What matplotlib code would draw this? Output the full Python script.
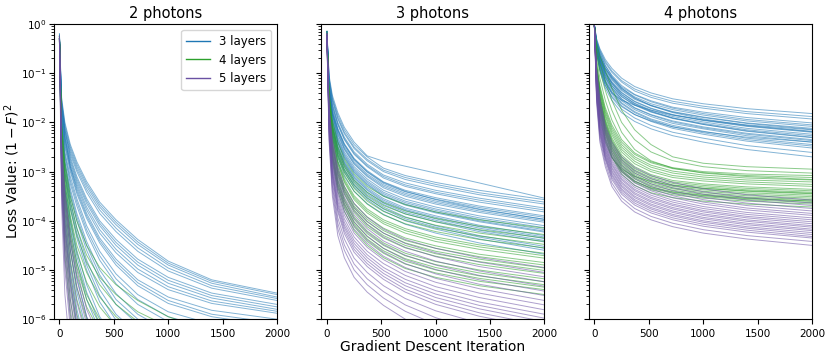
import numpy as np
import matplotlib

matplotlib.use("Agg")
import matplotlib.pyplot as plt

ITERS = [0, 20, 50, 100, 160, 250, 370, 520, 720, 1000, 1400, 2000]

PANEL_TITLES = ["2 photons", "3 photons", "4 photons"]
LAYER_LABELS = ["3 layers", "4 layers", "5 layers"]
X_TICKS = [0, 500, 1000, 1500, 2000]

# 2 photons
P2_L3 = [
    [-0.25, -1.5, -2.0, -2.45, -2.8, -3.2, -3.62, -3.98, -4.38, -4.82, -5.2, -5.47],
    [-0.25, -1.55, -2.05, -2.5, -2.85, -3.25, -3.67, -4.03, -4.43, -4.86, -5.23, -5.5],
    [-0.30, -1.6, -2.1, -2.55, -2.9, -3.3, -3.72, -4.08, -4.48, -4.9, -5.27, -5.55],
    [-0.30, -1.65, -2.15, -2.6, -2.95, -3.36, -3.78, -4.15, -4.55, -4.96, -5.32, -5.58],
    [-0.20, -1.7, -2.2, -2.65, -3.0, -3.42, -3.85, -4.22, -4.62, -5.02, -5.37, -5.62],
    [-0.35, -1.6, -2.15, -2.7, -3.1, -3.55, -4.0, -4.38, -4.78, -5.15, -5.47, -5.7],
    [-0.30, -1.75, -2.25, -2.75, -3.15, -3.6, -4.05, -4.44, -4.84, -5.21, -5.52, -5.75],
    [-0.30, -1.8, -2.3, -2.8, -3.2, -3.65, -4.1, -4.5, -4.9, -5.27, -5.57, -5.8],
    [-0.25, -1.85, -2.35, -2.85, -3.25, -3.72, -4.18, -4.58, -4.98, -5.34, -5.63, -5.84],
    [-0.25, -1.9, -2.4, -2.9, -3.3, -3.78, -4.25, -4.65, -5.05, -5.4, -5.68, -5.88],
    [-0.30, -1.7, -2.3, -2.9, -3.35, -3.85, -4.35, -4.78, -5.2, -5.55, -5.82, -6.0],
    [-0.35, -1.95, -2.45, -2.95, -3.4, -3.9, -4.4, -4.84, -5.26, -5.62, -5.9, -6.08],
    [-0.40, -2.0, -2.5, -3.0, -3.45, -3.95, -4.45, -4.9, -5.32, -5.68, -5.95, -6.15],
    [-0.30, -2.0, -2.6, -3.1, -3.55, -4.1, -4.62, -5.08, -5.5, -5.85, -6.1, -6.3],
    [-0.30, -2.05, -2.65, -3.18, -3.62, -4.18, -4.71, -5.18, -5.6, -5.95, -6.2, -6.4],
    [-0.25, -2.1, -2.7, -3.25, -3.7, -4.25, -4.8, -5.28, -5.7, -6.05, -6.3, -6.5],
    [-0.35, -2.2, -2.8, -3.35, -3.85, -4.42, -5.0, -5.48, -5.9, -6.25, -6.5, -6.7],
    [-0.25, -2.25, -2.85, -3.42, -3.92, -4.5, -5.1, -5.6, -6.0, -6.35, -6.6, -6.8],
    [-0.30, -2.2, -2.9, -3.5, -4.0, -4.6, -5.2, -5.7, -6.1, -6.45, -6.7, -6.9],
    [-0.30, -2.3, -3.0, -3.6, -4.15, -4.8, -5.4, -5.9, -6.3, -6.6, -6.85, -7.0],
    [-0.30, -2.35, -3.05, -3.68, -4.25, -4.9, -5.52, -6.02, -6.42, -6.72, -6.95, -7.15],
    [-0.20, -2.4, -3.1, -3.75, -4.35, -5.0, -5.65, -6.15, -6.55, -6.85, -7.1, -7.3],
    [-0.35, -2.5, -3.25, -3.95, -4.6, -5.3, -5.95, -6.45, -6.8, -7.1, -7.3, -7.5],
    [-0.30, -2.55, -3.32, -4.05, -4.72, -5.45, -6.1, -6.58, -6.92, -7.2, -7.4, -7.6],
    [-0.30, -2.6, -3.4, -4.15, -4.85, -5.6, -6.25, -6.7, -7.05, -7.3, -7.5, -7.7],
    [-0.25, -2.7, -3.55, -4.4, -5.15, -5.95, -6.6, -7.0, -7.3, -7.5, -7.7, -7.9],
    [-0.30, -2.8, -3.7, -4.6, -5.45, -6.25, -6.9, -7.3, -7.6, -7.8, -8.0, -8.1],
    [-0.35, -2.9, -3.9, -4.9, -5.8, -6.6, -7.2, -7.6, -7.9, -8.1, -8.3, -8.4],
    [-0.30, -3.0, -4.1, -5.2, -6.1, -6.9, -7.5, -7.9, -8.2, -8.4, -8.6, -8.7],
]
P2_L4 = [
    [-0.30, -2.0, -2.8, -3.5, -4.0, -4.5, -4.95, -5.3, -5.62, -5.95, -6.25, -6.5],
    [-0.25, -2.1, -2.9, -3.6, -4.15, -4.7, -5.15, -5.5, -5.85, -6.15, -6.45, -6.7],
    [-0.35, -2.2, -3.0, -3.75, -4.3, -4.85, -5.3, -5.7, -6.05, -6.35, -6.6, -6.85],
    [-0.30, -2.2, -3.1, -3.9, -4.5, -5.05, -5.55, -5.95, -6.3, -6.6, -6.85, -7.05],
    [-0.30, -2.3, -3.2, -4.0, -4.65, -5.25, -5.75, -6.15, -6.5, -6.8, -7.05, -7.25],
    [-0.25, -2.4, -3.35, -4.2, -4.85, -5.5, -6.0, -6.4, -6.75, -7.0, -7.25, -7.45],
    [-0.30, -2.5, -3.5, -4.4, -5.1, -5.75, -6.25, -6.65, -7.0, -7.25, -7.45, -7.6],
    [-0.35, -2.6, -3.65, -4.6, -5.35, -6.0, -6.5, -6.9, -7.2, -7.45, -7.65, -7.8],
    [-0.30, -2.7, -3.8, -4.8, -5.6, -6.3, -6.8, -7.15, -7.45, -7.7, -7.9, -8.0],
    [-0.25, -2.8, -4.0, -5.05, -5.9, -6.6, -7.1, -7.45, -7.7, -7.9, -8.1, -8.2],
    [-0.30, -2.9, -4.2, -5.3, -6.2, -6.9, -7.4, -7.7, -7.95, -8.15, -8.3, -8.4],
    [-0.30, -3.0, -4.4, -5.6, -6.5, -7.2, -7.7, -8.0, -8.2, -8.4, -8.5, -8.6],
    [-0.35, -3.2, -4.7, -5.9, -6.8, -7.5, -7.9, -8.2, -8.4, -8.6, -8.7, -8.8],
    [-0.30, -2.45, -3.4, -4.3, -4.95, -5.6, -6.1, -6.5, -6.85, -7.1, -7.35, -7.5],
]
P2_L5 = [
    [-0.30, -2.4, -3.4, -4.3, -5.0, -5.8, -6.4, -6.9, -7.3, -7.6, -7.85, -8.0],
    [-0.25, -2.6, -3.6, -4.6, -5.35, -6.1, -6.7, -7.15, -7.5, -7.8, -8.0, -8.2],
    [-0.35, -2.7, -3.8, -4.85, -5.65, -6.4, -7.0, -7.4, -7.7, -8.0, -8.2, -8.35],
    [-0.30, -2.8, -4.0, -5.1, -5.95, -6.7, -7.25, -7.65, -7.95, -8.2, -8.4, -8.5],
    [-0.30, -3.0, -4.3, -5.4, -6.25, -7.0, -7.5, -7.9, -8.2, -8.4, -8.6, -8.7],
    [-0.25, -3.2, -4.6, -5.8, -6.6, -7.3, -7.8, -8.15, -8.4, -8.6, -8.8, -8.9],
    [-0.30, -3.4, -5.0, -6.2, -7.0, -7.6, -8.1, -8.4, -8.65, -8.85, -9.0, -9.1],
    [-0.35, -3.7, -5.5, -6.7, -7.4, -8.0, -8.4, -8.7, -8.9, -9.1, -9.2, -9.3],
    [-0.30, -2.9, -4.15, -5.25, -6.1, -6.85, -7.4, -7.8, -8.1, -8.3, -8.5, -8.6],
    [-0.30, -3.1, -4.45, -5.6, -6.4, -7.15, -7.65, -8.0, -8.3, -8.5, -8.7, -8.8],
    [-0.25, -2.5, -3.5, -4.45, -5.2, -5.95, -6.55, -7.0, -7.4, -7.7, -7.9, -8.1],
    [-0.30, -3.3, -4.8, -6.0, -6.8, -7.45, -7.95, -8.3, -8.55, -8.75, -8.9, -9.0],
]

# 3 photons
P3_L3 = [
    [-0.15, -1.05, -1.45, -1.80, -2.10, -2.40, -2.68, -2.79, -2.89, -3.03, -3.23, -3.54],
    [-0.15, -1.10, -1.50, -1.85, -2.15, -2.45, -2.70, -2.93, -3.08, -3.22, -3.38, -3.57],
    [-0.18, -1.12, -1.53, -1.90, -2.20, -2.50, -2.75, -2.97, -3.12, -3.26, -3.43, -3.62],
    [-0.18, -1.15, -1.56, -1.93, -2.23, -2.53, -2.78, -3.00, -3.16, -3.30, -3.47, -3.66],
    [-0.15, -1.20, -1.62, -2.00, -2.30, -2.60, -2.85, -3.07, -3.23, -3.38, -3.54, -3.74],
    [-0.20, -1.22, -1.65, -2.03, -2.33, -2.63, -2.88, -3.10, -3.27, -3.42, -3.58, -3.78],
    [-0.20, -1.30, -1.68, -2.05, -2.35, -2.65, -2.90, -3.13, -3.30, -3.45, -3.62, -3.82],
    [-0.25, -1.25, -1.72, -2.12, -2.43, -2.73, -2.98, -3.21, -3.38, -3.53, -3.70, -3.90],
    [-0.15, -1.32, -1.76, -2.15, -2.46, -2.76, -3.01, -3.24, -3.41, -3.56, -3.73, -3.93],
    [-0.15, -1.35, -1.80, -2.18, -2.50, -2.80, -3.05, -3.27, -3.44, -3.60, -3.77, -3.97],
    [-0.20, -1.40, -1.80, -2.15, -2.45, -2.75, -3.00, -3.22, -3.40, -3.57, -3.76, -3.97],
    [-0.25, -1.38, -1.83, -2.22, -2.53, -2.83, -3.08, -3.30, -3.47, -3.63, -3.80, -4.00],
    [-0.20, -1.40, -1.85, -2.25, -2.55, -2.85, -3.10, -3.33, -3.50, -3.66, -3.83, -4.03],
    [-0.20, -1.30, -1.85, -2.30, -2.60, -2.90, -3.15, -3.38, -3.56, -3.72, -3.90, -4.10],
    [-0.20, -1.42, -1.90, -2.33, -2.64, -2.94, -3.19, -3.42, -3.60, -3.76, -3.94, -4.14],
    [-0.25, -1.45, -1.95, -2.37, -2.67, -2.97, -3.22, -3.45, -3.63, -3.79, -3.97, -4.18],
    [-0.15, -1.48, -1.98, -2.40, -2.70, -3.00, -3.25, -3.48, -3.66, -3.82, -4.00, -4.21],
    [-0.15, -1.50, -2.00, -2.42, -2.72, -3.02, -3.27, -3.50, -3.68, -3.84, -4.02, -4.23],
    [-0.20, -1.50, -2.05, -2.47, -2.78, -3.08, -3.33, -3.55, -3.74, -3.90, -4.09, -4.30],
    [-0.20, -1.52, -2.08, -2.50, -2.81, -3.11, -3.36, -3.58, -3.77, -3.93, -4.12, -4.33],
    [-0.20, -1.55, -2.10, -2.53, -2.83, -3.13, -3.38, -3.61, -3.79, -3.96, -4.15, -4.36],
    [-0.25, -1.58, -2.13, -2.57, -2.87, -3.17, -3.42, -3.64, -3.83, -3.99, -4.19, -4.40],
    [-0.25, -1.60, -2.15, -2.60, -2.90, -3.20, -3.45, -3.67, -3.86, -4.02, -4.22, -4.43],
    [-0.20, -1.60, -2.20, -2.65, -2.95, -3.25, -3.50, -3.72, -3.92, -4.10, -4.30, -4.52],
    [-0.20, -1.62, -2.22, -2.68, -2.98, -3.28, -3.53, -3.76, -3.96, -4.13, -4.33, -4.56],
    [-0.15, -1.65, -2.25, -2.72, -3.02, -3.32, -3.57, -3.80, -4.00, -4.17, -4.37, -4.60],
    [-0.20, -1.70, -2.30, -2.80, -3.10, -3.40, -3.65, -3.87, -4.07, -4.25, -4.45, -4.68],
]
P3_L4 = [
    [-0.20, -1.40, -1.95, -2.40, -2.75, -3.05, -3.30, -3.50, -3.67, -3.82, -3.98, -4.15],
    [-0.20, -1.45, -2.05, -2.50, -2.85, -3.17, -3.42, -3.63, -3.80, -3.95, -4.11, -4.28],
    [-0.20, -1.48, -2.08, -2.55, -2.90, -3.22, -3.48, -3.69, -3.86, -4.02, -4.18, -4.35],
    [-0.25, -1.50, -2.10, -2.60, -2.96, -3.28, -3.54, -3.75, -3.93, -4.09, -4.25, -4.42],
    [-0.25, -1.55, -2.15, -2.65, -3.01, -3.34, -3.60, -3.81, -3.99, -4.15, -4.31, -4.48],
    [-0.20, -1.60, -2.20, -2.70, -3.07, -3.40, -3.66, -3.88, -4.06, -4.22, -4.38, -4.55],
    [-0.15, -1.62, -2.27, -2.78, -3.15, -3.49, -3.76, -3.98, -4.16, -4.33, -4.49, -4.66],
    [-0.20, -1.66, -2.30, -2.82, -3.19, -3.53, -3.80, -4.02, -4.20, -4.37, -4.53, -4.71],
    [-0.20, -1.70, -2.33, -2.85, -3.22, -3.57, -3.84, -4.06, -4.25, -4.42, -4.58, -4.76],
    [-0.25, -1.70, -2.40, -2.92, -3.30, -3.65, -3.92, -4.15, -4.35, -4.51, -4.68, -4.85],
    [-0.20, -1.72, -2.43, -2.96, -3.34, -3.70, -3.97, -4.20, -4.40, -4.56, -4.73, -4.90],
    [-0.20, -1.75, -2.46, -3.00, -3.38, -3.74, -4.02, -4.25, -4.45, -4.62, -4.78, -4.96],
    [-0.25, -1.78, -2.50, -3.04, -3.42, -3.78, -4.07, -4.30, -4.50, -4.67, -4.83, -5.01],
    [-0.20, -1.80, -2.53, -3.08, -3.46, -3.83, -4.12, -4.35, -4.55, -4.72, -4.89, -5.07],
    [-0.25, -1.85, -2.60, -3.16, -3.55, -3.92, -4.21, -4.45, -4.66, -4.83, -5.00, -5.18],
    [-0.20, -1.88, -2.63, -3.20, -3.59, -3.97, -4.26, -4.50, -4.71, -4.89, -5.06, -5.24],
    [-0.20, -1.90, -2.67, -3.25, -3.64, -4.03, -4.32, -4.56, -4.77, -4.95, -5.12, -5.30],
    [-0.20, -1.92, -2.70, -3.29, -3.68, -4.07, -4.37, -4.61, -4.82, -5.00, -5.17, -5.35],
    [-0.20, -1.95, -2.74, -3.33, -3.72, -4.12, -4.42, -4.66, -4.88, -5.06, -5.23, -5.40],
    [-0.25, -2.00, -2.80, -3.40, -3.80, -4.20, -4.50, -4.75, -4.97, -5.15, -5.32, -5.50],
]
P3_L5 = [
    [-0.20, -1.70, -2.35, -2.90, -3.30, -3.65, -3.93, -4.17, -4.38, -4.56, -4.75, -4.95],
    [-0.20, -1.74, -2.41, -2.97, -3.38, -3.73, -4.01, -4.25, -4.46, -4.65, -4.84, -5.05],
    [-0.20, -1.77, -2.47, -3.04, -3.45, -3.80, -4.08, -4.33, -4.54, -4.73, -4.93, -5.14],
    [-0.25, -1.81, -2.52, -3.11, -3.52, -3.88, -4.16, -4.41, -4.62, -4.82, -5.02, -5.24],
    [-0.25, -1.85, -2.58, -3.18, -3.59, -3.95, -4.23, -4.48, -4.70, -4.90, -5.11, -5.33],
    [-0.20, -1.88, -2.64, -3.25, -3.66, -4.02, -4.31, -4.56, -4.79, -4.99, -5.20, -5.43],
    [-0.20, -1.90, -2.70, -3.32, -3.74, -4.10, -4.39, -4.64, -4.87, -5.08, -5.29, -5.52],
    [-0.25, -1.95, -2.76, -3.39, -3.81, -4.17, -4.46, -4.72, -4.95, -5.17, -5.38, -5.62],
    [-0.25, -2.00, -2.81, -3.46, -3.88, -4.25, -4.54, -4.79, -5.03, -5.25, -5.47, -5.71],
    [-0.20, -2.02, -2.87, -3.53, -3.96, -4.33, -4.62, -4.87, -5.11, -5.34, -5.56, -5.81],
    [-0.20, -2.05, -2.93, -3.60, -4.03, -4.40, -4.69, -4.95, -5.19, -5.42, -5.65, -5.90],
    [-0.25, -2.08, -2.98, -3.66, -4.09, -4.46, -4.75, -5.01, -5.26, -5.49, -5.72, -5.98],
    [-0.25, -2.10, -3.02, -3.71, -4.14, -4.52, -4.81, -5.07, -5.32, -5.56, -5.79, -6.05],
    [-0.30, -2.12, -3.07, -3.77, -4.20, -4.58, -4.87, -5.13, -5.39, -5.63, -5.87, -6.13],
    [-0.30, -2.15, -3.11, -3.82, -4.26, -4.64, -4.93, -5.19, -5.45, -5.70, -5.94, -6.20],
    [-0.25, -2.20, -3.20, -3.94, -4.37, -4.76, -5.05, -5.32, -5.58, -5.83, -6.08, -6.36],
    [-0.30, -2.27, -3.29, -4.05, -4.49, -4.88, -5.18, -5.44, -5.71, -5.97, -6.23, -6.51],
    [-0.30, -2.33, -3.39, -4.16, -4.60, -5.00, -5.30, -5.57, -5.84, -6.11, -6.37, -6.66],
    [-0.30, -2.40, -3.50, -4.30, -4.75, -5.15, -5.45, -5.72, -6.00, -6.28, -6.55, -6.85],
]

# 4 photons
P4_L3 = [
    [-0.02, -0.30, -0.50, -0.72, -0.90, -1.10, -1.27, -1.40, -1.52, -1.62, -1.72, -1.82],
    [-0.03, -0.32, -0.53, -0.76, -0.95, -1.15, -1.32, -1.45, -1.57, -1.67, -1.78, -1.88],
    [-0.02, -0.34, -0.55, -0.79, -0.98, -1.18, -1.36, -1.49, -1.61, -1.71, -1.82, -1.93],
    [-0.03, -0.37, -0.60, -0.85, -1.04, -1.25, -1.43, -1.56, -1.69, -1.79, -1.90, -2.01],
    [-0.04, -0.42, -0.66, -0.90, -1.08, -1.28, -1.44, -1.58, -1.71, -1.82, -1.94, -2.05],
    [-0.04, -0.39, -0.63, -0.89, -1.09, -1.31, -1.48, -1.62, -1.74, -1.85, -1.97, -2.08],
    [-0.03, -0.40, -0.64, -0.91, -1.11, -1.33, -1.51, -1.65, -1.78, -1.89, -2.01, -2.12],
    [-0.02, -0.41, -0.66, -0.93, -1.13, -1.35, -1.53, -1.66, -1.79, -1.90, -2.02, -2.14],
    [-0.03, -0.35, -0.58, -0.84, -1.06, -1.30, -1.50, -1.66, -1.80, -1.93, -2.06, -2.18],
    [-0.03, -0.43, -0.69, -0.96, -1.17, -1.39, -1.57, -1.71, -1.84, -1.95, -2.07, -2.19],
    [-0.02, -0.45, -0.72, -0.99, -1.19, -1.40, -1.58, -1.72, -1.85, -1.96, -2.08, -2.20],
    [-0.05, -0.44, -0.72, -1.00, -1.21, -1.44, -1.61, -1.75, -1.88, -1.99, -2.12, -2.24],
    [-0.04, -0.47, -0.75, -1.04, -1.25, -1.47, -1.64, -1.78, -1.91, -2.02, -2.15, -2.27],
    [-0.03, -0.46, -0.74, -1.03, -1.25, -1.48, -1.65, -1.79, -1.92, -2.04, -2.17, -2.30],
    [-0.02, -0.44, -0.70, -0.98, -1.20, -1.43, -1.62, -1.77, -1.91, -2.04, -2.18, -2.31],
    [-0.02, -0.48, -0.77, -1.07, -1.29, -1.52, -1.70, -1.84, -1.97, -2.09, -2.22, -2.35],
    [-0.03, -0.50, -0.79, -1.08, -1.30, -1.53, -1.71, -1.85, -1.99, -2.11, -2.24, -2.37],
    [-0.04, -0.50, -0.80, -1.10, -1.33, -1.56, -1.74, -1.88, -2.02, -2.13, -2.27, -2.40],
    [-0.04, -0.58, -0.92, -1.25, -1.47, -1.68, -1.84, -1.97, -2.09, -2.19, -2.30, -2.40],
    [-0.03, -0.52, -0.82, -1.14, -1.37, -1.60, -1.78, -1.93, -2.06, -2.18, -2.32, -2.45],
    [-0.05, -0.53, -0.84, -1.16, -1.39, -1.62, -1.80, -1.95, -2.09, -2.21, -2.35, -2.48],
    [-0.05, -0.54, -0.86, -1.18, -1.42, -1.66, -1.84, -1.98, -2.12, -2.24, -2.38, -2.52],
    [-0.04, -0.57, -0.90, -1.24, -1.49, -1.73, -1.91, -2.06, -2.20, -2.32, -2.47, -2.61],
    [-0.05, -0.60, -0.95, -1.30, -1.55, -1.80, -1.98, -2.13, -2.27, -2.40, -2.55, -2.70],
    [-0.03, -0.55, -0.90, -1.20, -1.40, -1.55, -1.65, -1.75, -1.85, -1.95, -2.05, -2.15],
]
P4_L4 = [
    [-0.03, -0.40, -0.65, -0.95, -1.30, -1.75, -2.15, -2.45, -2.70, -2.83, -2.90, -2.95],
    [-0.04, -0.50, -0.80, -1.15, -1.55, -2.00, -2.35, -2.60, -2.78, -2.90, -2.98, -3.03],
    [-0.03, -0.60, -0.95, -1.35, -1.75, -2.20, -2.55, -2.78, -2.93, -3.03, -3.10, -3.16],
    [-0.03, -0.70, -1.10, -1.55, -1.95, -2.35, -2.62, -2.80, -2.92, -3.00, -3.05, -3.08],
    [-0.03, -0.80, -1.25, -1.70, -2.05, -2.40, -2.65, -2.82, -2.94, -3.02, -3.08, -3.12],
    [-0.03, -0.83, -1.29, -1.75, -2.10, -2.45, -2.70, -2.87, -2.99, -3.07, -3.13, -3.17],
    [-0.04, -0.86, -1.33, -1.79, -2.15, -2.50, -2.74, -2.91, -3.03, -3.11, -3.17, -3.21],
    [-0.04, -0.89, -1.37, -1.84, -2.20, -2.55, -2.79, -2.96, -3.08, -3.15, -3.21, -3.26],
    [-0.03, -0.92, -1.40, -1.88, -2.25, -2.60, -2.84, -3.00, -3.12, -3.19, -3.25, -3.30],
    [-0.05, -0.96, -1.45, -1.94, -2.31, -2.66, -2.90, -3.06, -3.18, -3.25, -3.31, -3.36],
    [-0.03, -0.98, -1.48, -1.97, -2.35, -2.70, -2.94, -3.09, -3.21, -3.28, -3.34, -3.39],
    [-0.03, -1.00, -1.50, -2.00, -2.38, -2.73, -2.97, -3.12, -3.24, -3.31, -3.37, -3.42],
    [-0.05, -1.02, -1.53, -2.03, -2.41, -2.76, -3.00, -3.15, -3.27, -3.34, -3.40, -3.45],
    [-0.04, -1.04, -1.55, -2.06, -2.44, -2.79, -3.03, -3.18, -3.30, -3.37, -3.43, -3.48],
    [-0.03, -1.06, -1.58, -2.09, -2.48, -2.83, -3.06, -3.22, -3.33, -3.40, -3.46, -3.51],
    [-0.03, -1.08, -1.60, -2.12, -2.51, -2.86, -3.09, -3.25, -3.35, -3.43, -3.49, -3.54],
    [-0.04, -1.10, -1.63, -2.15, -2.54, -2.89, -3.12, -3.28, -3.38, -3.46, -3.52, -3.57],
    [-0.05, -1.12, -1.65, -2.18, -2.57, -2.92, -3.15, -3.31, -3.41, -3.48, -3.54, -3.60],
    [-0.05, -1.25, -1.82, -2.35, -2.70, -3.00, -3.20, -3.33, -3.42, -3.49, -3.55, -3.60],
    [-0.04, -1.14, -1.68, -2.21, -2.61, -2.96, -3.19, -3.34, -3.44, -3.51, -3.57, -3.63],
    [-0.04, -1.16, -1.70, -2.24, -2.64, -2.99, -3.22, -3.37, -3.47, -3.54, -3.60, -3.66],
    [-0.05, -1.20, -1.75, -2.30, -2.70, -3.05, -3.28, -3.43, -3.53, -3.60, -3.66, -3.72],
    [-0.04, -1.30, -1.90, -2.40, -2.72, -2.95, -3.10, -3.20, -3.28, -3.34, -3.39, -3.44],
]
P4_L5 = [
    [-0.03, -0.90, -1.50, -2.05, -2.40, -2.70, -2.92, -3.08, -3.22, -3.35, -3.47, -3.58],
    [-0.03, -0.94, -1.55, -2.10, -2.46, -2.76, -2.98, -3.14, -3.28, -3.41, -3.53, -3.64],
    [-0.03, -0.98, -1.61, -2.15, -2.51, -2.81, -3.03, -3.19, -3.33, -3.46, -3.58, -3.69],
    [-0.04, -1.03, -1.67, -2.20, -2.57, -2.87, -3.09, -3.25, -3.39, -3.52, -3.64, -3.75],
    [-0.04, -1.07, -1.72, -2.25, -2.62, -2.92, -3.14, -3.30, -3.44, -3.57, -3.69, -3.80],
    [-0.03, -1.10, -1.77, -2.30, -2.67, -2.97, -3.19, -3.35, -3.49, -3.62, -3.74, -3.85],
    [-0.03, -1.14, -1.81, -2.34, -2.71, -3.01, -3.23, -3.39, -3.53, -3.66, -3.78, -3.89],
    [-0.04, -1.18, -1.86, -2.38, -2.76, -3.06, -3.28, -3.44, -3.58, -3.71, -3.83, -3.94],
    [-0.04, -1.21, -1.90, -2.42, -2.80, -3.10, -3.32, -3.48, -3.62, -3.75, -3.87, -3.98],
    [-0.05, -1.24, -1.94, -2.46, -2.84, -3.14, -3.36, -3.52, -3.66, -3.79, -3.91, -4.02],
    [-0.05, -1.26, -1.97, -2.49, -2.87, -3.17, -3.39, -3.55, -3.69, -3.82, -3.94, -4.06],
    [-0.03, -1.29, -2.01, -2.53, -2.91, -3.21, -3.43, -3.59, -3.73, -3.86, -3.98, -4.10],
    [-0.03, -1.32, -2.04, -2.56, -2.94, -3.24, -3.46, -3.62, -3.76, -3.89, -4.01, -4.13],
    [-0.04, -1.35, -2.08, -2.60, -2.98, -3.28, -3.50, -3.66, -3.80, -3.93, -4.05, -4.17],
    [-0.04, -1.38, -2.11, -2.63, -3.01, -3.31, -3.53, -3.69, -3.83, -3.96, -4.08, -4.20],
    [-0.03, -1.41, -2.15, -2.67, -3.05, -3.35, -3.57, -3.73, -3.87, -4.00, -4.12, -4.24],
    [-0.03, -1.43, -2.18, -2.70, -3.08, -3.38, -3.60, -3.76, -3.90, -4.03, -4.15, -4.28],
    [-0.05, -1.46, -2.22, -2.73, -3.12, -3.42, -3.64, -3.80, -3.94, -4.07, -4.19, -4.32],
    [-0.05, -1.49, -2.26, -2.76, -3.16, -3.46, -3.68, -3.84, -3.98, -4.11, -4.23, -4.35],
    [-0.04, -1.54, -2.33, -2.83, -3.23, -3.53, -3.75, -3.91, -4.05, -4.18, -4.30, -4.42],
    [-0.05, -1.60, -2.40, -2.90, -3.30, -3.60, -3.82, -3.98, -4.12, -4.25, -4.37, -4.50],
]

PANELS = [
    [P2_L3, P2_L4, P2_L5],
    [P3_L3, P3_L4, P3_L5],
    [P4_L3, P4_L4, P4_L5],
]
COLORS = ["#1f77b4", "#2ca02c", "#6a51a3"]


def main() -> None:
    fig, axes = plt.subplots(1, 3, figsize=(8.31, 3.59), dpi=100, sharey=True)
    fig.subplots_adjust(left=0.065, right=0.977, top=0.933, bottom=0.111, wspace=0.2)

    for ax, title, groups in zip(axes, PANEL_TITLES, PANELS):
        for curves, color, label in zip(groups, COLORS, LAYER_LABELS):
            for i, row in enumerate(curves):
                ax.plot(
                    ITERS,
                    10.0 ** np.array(row),
                    color=color,
                    linewidth=0.7,
                    alpha=0.55,
                    label=label if i == 0 else None,
                )
        ax.set_yscale("log")
        ax.set_ylim(1e-6, 1)
        ax.set_xlim(-50, 2000)
        ax.set_xticks(X_TICKS)
        ax.set_title(title, fontsize=10.5, pad=4)
        ax.tick_params(labelsize=7.5)
        ax.tick_params(axis="y", pad=2)

    axes[0].set_ylabel(r"Loss Value: $(1-F)^2$", fontsize=10)
    axes[0].yaxis.set_label_coords(-0.145, 0.5)
    axes[1].set_xlabel("Gradient Descent Iteration", fontsize=10, labelpad=1)
    leg = axes[0].legend(loc="upper right", fontsize=8.5)
    for line in leg.get_lines():
        line.set_alpha(1.0)
        line.set_linewidth(1.0)

    fig.savefig("out.png", dpi=100)
    plt.close(fig)


if __name__ == "__main__":
    main()
